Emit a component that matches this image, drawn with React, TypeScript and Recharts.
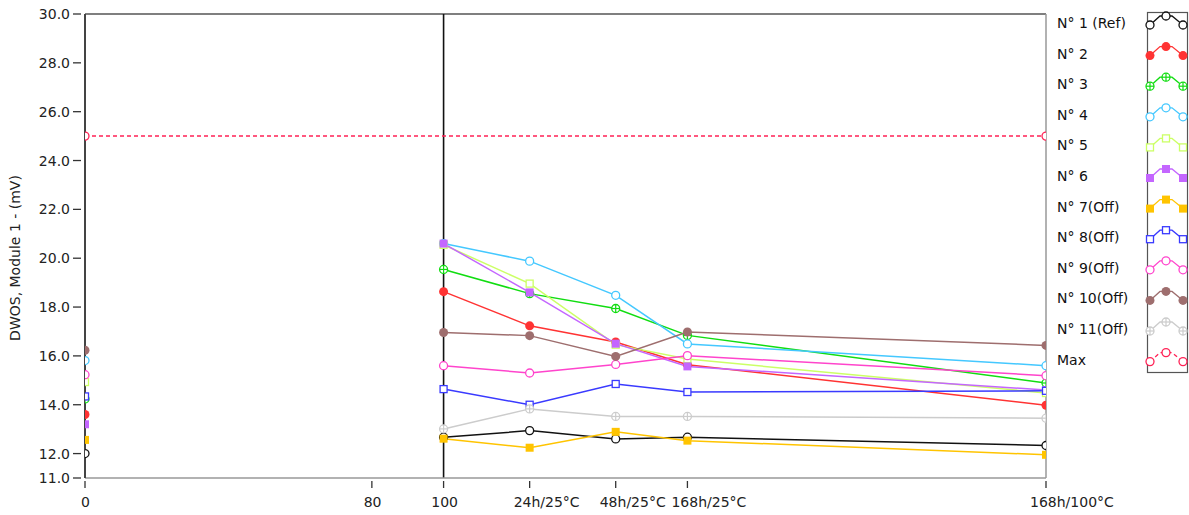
import { LineChart, Line, XAxis, YAxis, ReferenceLine } from 'recharts';

// x positions of the samples; 50 is an empty row that breaks the lines between 0 and 100
const sampleX = [0, 50, 100, 124, 148, 168, 268];

const n1Ref = [12.0, null, 12.67, 12.94, 12.6, 12.67, 12.33];
const n2 = [13.6, null, 18.63, 17.23, 16.57, 15.64, 13.98];
const n3 = [14.24, null, 19.54, 18.55, 17.94, 16.84, 14.89];
const n4 = [15.81, null, 20.6, 19.88, 18.48, 16.49, 15.6];
const n5 = [14.93, null, 20.55, 18.96, 16.46, 15.87, 14.48];
const n6 = [13.2, null, 20.6, 18.6, 16.5, 15.57, 14.6];
const n7Off = [12.56, null, 12.61, 12.24, 12.89, 12.53, 11.95];
const n8Off = [14.34, null, 14.64, 14.0, 14.85, 14.52, 14.57];
const n9Off = [15.23, null, 15.6, 15.3, 15.65, 16.01, 15.19];
const n10Off = [16.23, null, 16.96, 16.83, 15.98, 16.98, 16.43];
const n11Off = [null, null, 13.01, 13.83, 13.52, 13.52, 13.45];
const maxLimit = [25, null, null, null, null, null, 25];

const xTicks = [0, 80, 100, 124, 148, 168, 268];
const xTickLabels = ['0', '80', '100', '24h/25°C', '48h/25°C', '168h/25°C', '168h/100°C'];
const yTicks = [11, 12, 14, 16, 18, 20, 22, 24, 26, 28, 30];

type MarkerKind = 'circle' | 'dot' | 'cross' | 'square' | 'block';

const series: { key: string; name: string; values: (number | null)[]; color: string; marker: MarkerKind; dash?: string }[] = [
  { key: 'n1', name: 'N° 1 (Ref)', values: n1Ref, color: '#111111', marker: 'circle' },
  { key: 'n2', name: 'N° 2', values: n2, color: '#ff3333', marker: 'dot' },
  { key: 'n3', name: 'N° 3', values: n3, color: '#11dd11', marker: 'cross' },
  { key: 'n4', name: 'N° 4', values: n4, color: '#44c8ff', marker: 'circle' },
  { key: 'n5', name: 'N° 5', values: n5, color: '#ccff66', marker: 'square' },
  { key: 'n6', name: 'N° 6', values: n6, color: '#c466ff', marker: 'block' },
  { key: 'n7', name: 'N° 7(Off)', values: n7Off, color: '#ffc400', marker: 'block' },
  { key: 'n8', name: 'N° 8(Off)', values: n8Off, color: '#3a3aff', marker: 'square' },
  { key: 'n9', name: 'N° 9(Off)', values: n9Off, color: '#ff44cc', marker: 'circle' },
  { key: 'n10', name: 'N° 10(Off)', values: n10Off, color: '#9e6e6e', marker: 'dot' },
  { key: 'n11', name: 'N° 11(Off)', values: n11Off, color: '#cccccc', marker: 'cross' },
  { key: 'max', name: 'Max', values: maxLimit, color: '#ff2255', marker: 'circle', dash: '4 3' },
];

const data = sampleX.map((x, i) => {
  const row: Record<string, number | null> = { x };
  series.forEach((s) => {
    row[s.key] = s.values[i];
  });
  return row;
});

const FONT = '"DejaVu Sans", Verdana, sans-serif';
const PLOT_LEFT = 85;
const PLOT_RIGHT = 1046;
const PLOT_BOTTOM = 478;

function Marker({ cx, cy, color, kind }: { cx: number; cy: number; color: string; kind: MarkerKind }) {
  if (kind === 'dot') return <circle cx={cx} cy={cy} r={4.5} fill={color} />;
  if (kind === 'block') return <rect x={cx - 4} y={cy - 4} width={8} height={8} fill={color} />;
  if (kind === 'square')
    return <rect x={cx - 3.5} y={cy - 3.5} width={7} height={7} fill="#fff" stroke={color} strokeWidth={1.3} />;
  if (kind === 'cross')
    return (
      <g>
        <circle cx={cx} cy={cy} r={4} fill="#fff" stroke={color} strokeWidth={1.3} />
        <line x1={cx - 4} y1={cy} x2={cx + 4} y2={cy} stroke={color} strokeWidth={1.2} />
        <line x1={cx} y1={cy - 4} x2={cx} y2={cy + 4} stroke={color} strokeWidth={1.2} />
      </g>
    );
  return <circle cx={cx} cy={cy} r={4} fill="#fff" stroke={color} strokeWidth={1.3} />;
}

// markers on the plot edges are cut in half, like the original (nested svg clips them)
function makeDot(color: string, kind: MarkerKind) {
  return (props: any) => {
    const { cx, cy, value, index } = props;
    if (cx == null || cy == null || value == null || Number.isNaN(cy)) return <g key={`d-${index}`} />;
    return (
      <svg
        key={`d-${index}`}
        x={PLOT_LEFT}
        y={0}
        width={PLOT_RIGHT - PLOT_LEFT}
        height={PLOT_BOTTOM}
        overflow="hidden"
      >
        <g transform={`translate(${-PLOT_LEFT},0)`}>
          <Marker cx={cx} cy={cy} color={color} kind={kind} />
        </g>
      </svg>
    );
  };
}

function XTick(props: any) {
  const { x, y, payload } = props;
  const idx = xTicks.indexOf(payload.value);
  const label = idx >= 0 ? xTickLabels[idx] : String(payload.value);
  const isText = payload.value > 100;
  const w = label.length * 8.2;
  const tx = isText ? x - 16 : x - w / 2;
  return (
    <g>
      <line x1={x} y1={y + 3} x2={x} y2={y + 10} stroke="#333" strokeWidth={1.3} />
      <rect x={tx} y={y + 16} width={w} height={17} fill="#fff" />
      <text x={tx} y={y + 29} fontSize={14} fontFamily={FONT} fill="#222" textAnchor="start">
        {label}
      </text>
    </g>
  );
}

function YTick(props: any) {
  const { x, y, payload } = props;
  return (
    <g>
      <line x1={x - 12} y1={y} x2={x - 4} y2={y} stroke="#333" strokeWidth={1.3} />
      <text x={x - 15} y={y + 5} fontSize={14} fontFamily={FONT} fill="#222" textAnchor="end">
        {Number(payload.value).toFixed(1)}
      </text>
    </g>
  );
}

function LegendBox() {
  const rowY = (i: number) => 23 + i * 30.6;
  return (
    <svg width={149} height={380} style={{ display: 'block' }}>
      {series.map((s, i) => (
        <text key={s.key} x={17} y={rowY(i) + 5} fontSize={14} fontFamily={FONT} fill="#111">
          {s.name}
        </text>
      ))}
      <rect x={107.5} y={12.5} width={40} height={360} fill="#fff" stroke="#555" strokeWidth={1.2} />
      {series.map((s, i) => {
        const c = rowY(i);
        const lo = c + 2;
        const hi = c - 7;
        return (
          <g key={s.key}>
            <polyline
              points={`110,${lo} 120,${hi} 132,${hi} 143,${lo}`}
              fill="none"
              stroke={s.color}
              strokeWidth={1.3}
              strokeDasharray={s.dash}
            />
            <Marker cx={110} cy={lo} color={s.color} kind={s.marker} />
            <Marker cx={126} cy={hi} color={s.color} kind={s.marker} />
            <Marker cx={143} cy={lo} color={s.color} kind={s.marker} />
          </g>
        );
      })}
    </svg>
  );
}

export default function App() {
  return (
    <div style={{ position: 'absolute', left: 0, top: 0, width: 1189, height: 515, background: '#fff', fontFamily: FONT }}>
      <LineChart
        width={1189}
        height={515}
        data={data}
        margin={{ top: 14, right: 1189 - PLOT_RIGHT, bottom: 515 - PLOT_BOTTOM - 30, left: PLOT_LEFT - 60 }}
      >
        <XAxis
          dataKey="x"
          type="number"
          domain={[0, 268]}
          ticks={xTicks}
          allowDataOverflow
          interval={0}
          tickSize={0}
          tickMargin={0}
          height={30}
          tick={<XTick />}
          axisLine={{ stroke: '#999', strokeWidth: 1.5 }}
          tickLine={false}
        />
        <YAxis
          type="number"
          domain={[11, 30]}
          ticks={yTicks}
          interval={0}
          width={60}
          tickSize={0}
          tickMargin={0}
          tick={<YTick />}
          tickLine={false}
          axisLine={{ stroke: '#444', strokeWidth: 2 }}
          label={{
            content: () => (
              <text
                x={20}
                y={258}
                transform="rotate(-90, 20, 258)"
                textAnchor="middle"
                fontSize={14}
                fontFamily={FONT}
                fill="#222"
              >
                DWOS, Module 1 - (mV)
              </text>
            ),
          }}
        />
        <ReferenceLine y={30} stroke="#555" strokeWidth={1.3} />
        <ReferenceLine x={268} stroke="#999" strokeWidth={1.5} />
        <ReferenceLine x={100} stroke="#111" strokeWidth={1.6} />
        {series.map((s) => (
          <Line
            key={s.key}
            dataKey={s.key}
            name={s.name}
            stroke={s.color}
            strokeWidth={1.5}
            strokeDasharray={s.dash}
            connectNulls={s.key === 'max'}
            dot={makeDot(s.color, s.marker)}
            activeDot={false}
            isAnimationActive={false}
          />
        ))}
      </LineChart>
      <div style={{ position: 'absolute', left: 1040, top: 0 }}>
        <LegendBox />
      </div>
    </div>
  );
}
